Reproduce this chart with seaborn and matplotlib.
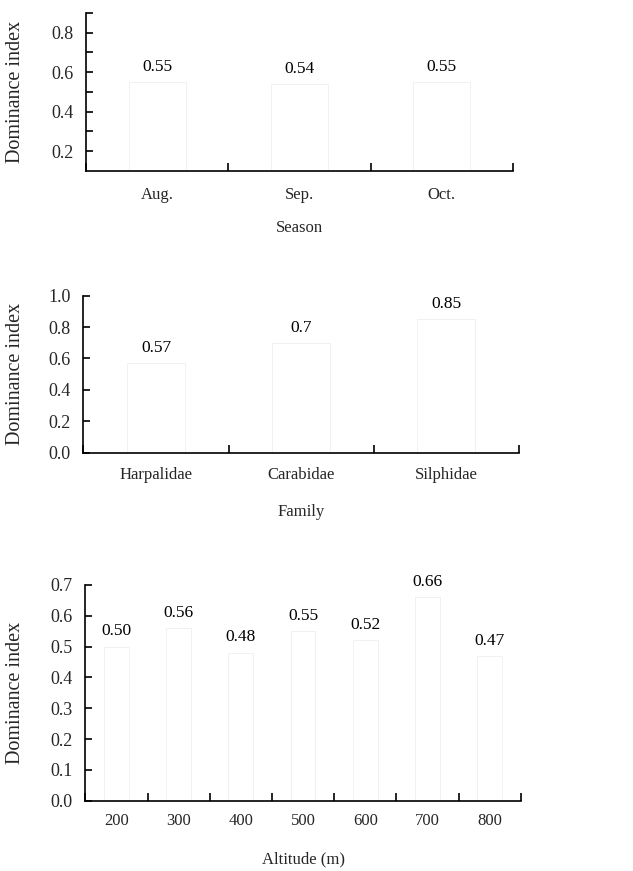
import matplotlib
matplotlib.use("Agg")
import matplotlib.pyplot as plt
import seaborn as sns
import numpy as np
import pandas as pd
from matplotlib.ticker import FixedLocator

sns.set_theme(style="ticks")
plt.rcParams['font.family'] = ['Liberation Serif', 'DejaVu Serif']

# ---- data ----
season_cats = ["Aug.", "Sep.", "Oct."]
season_vals = [0.55, 0.54, 0.55]
season_lbls = ["0.55", "0.54", "0.55"]

family_cats = ["Harpalidae", "Carabidae", "Silphidae"]
family_vals = [0.57, 0.70, 0.85]
family_lbls = ["0.57", "0.7", "0.85"]

alt_cats = ["200", "300", "400", "500", "600", "700", "800"]
alt_vals = [0.50, 0.56, 0.48, 0.55, 0.52, 0.66, 0.47]
alt_lbls = ["0.50", "0.56", "0.48", "0.55", "0.52", "0.66", "0.47"]

W, H = 633, 871
fig = plt.figure(figsize=(W / 100, H / 100), dpi=100)
fig.patch.set_facecolor("white")


def panel(rect, cats, vals, lbls, xlabel, ylim, yticks, yminor, xpad, xlpad, ylabel_x):
    ax = fig.add_axes(rect)
    df = pd.DataFrame({"cat": cats, "val": vals})
    sns.barplot(data=df, x="cat", y="val", ax=ax, color="white", width=0.4,
                edgecolor="#ececec", linewidth=0.5, saturation=1)
    ax.set_facecolor("white")
    ax.set_xlim(-0.5, len(cats) - 0.5)
    ax.set_ylim(*ylim)
    ax.set_yticks(yticks)
    ax.set_yticklabels([f"{t:.1f}" for t in yticks])
    if yminor is not None:
        ax.yaxis.set_minor_locator(FixedLocator(yminor))
    ax.tick_params(axis="y", which="both", direction="in", length=5, width=1.2,
                   color="black", labelsize=13, pad=9)
    # x ticks: labels at centers, tick marks at category boundaries
    ax.tick_params(axis="x", which="major", length=0, labelsize=12, pad=xpad)
    ax.xaxis.set_minor_locator(FixedLocator(np.arange(-0.5, len(cats), 1.0)))
    ax.tick_params(axis="x", which="minor", direction="in", length=6, width=1.2,
                   color="black")
    for s in ["top", "right"]:
        ax.spines[s].set_visible(False)
    for s in ["left", "bottom"]:
        ax.spines[s].set_color("black")
        ax.spines[s].set_linewidth(1.2)
    ax.set_xlabel(xlabel, fontsize=12, labelpad=xlpad)
    ax.set_ylabel("Dominance index", fontsize=14.5)
    ax.yaxis.set_label_coords(ylabel_x, 0.5)
    for i, (v, t) in enumerate(zip(vals, lbls)):
        ax.annotate(t, (i, v), xytext=(0, 11), textcoords="offset points",
                    ha="center", va="center", fontsize=12.5, color="black")
    return ax


panel([0.1359, 0.8037, 0.6745, 0.1814], season_cats, season_vals, season_lbls,
      "Season", (0.1, 0.9), [0.2, 0.4, 0.6, 0.8], [0.3, 0.5, 0.7, 0.9], 11.5, 12.5, -0.143)
panel([0.1319, 0.4803, 0.6880, 0.1802], family_cats, family_vals, family_lbls,
      "Family", (0.0, 1.0), [0.0, 0.2, 0.4, 0.6, 0.8, 1.0], None, 10.5, 15, -0.134)
panel([0.1348, 0.0807, 0.6878, 0.2477], alt_cats, alt_vals, alt_lbls,
      "Altitude (m)", (0.0, 0.7), [0.0, 0.1, 0.2, 0.3, 0.4, 0.5, 0.6, 0.7], None, 9, 16, -0.139)

fig.savefig("out.png", dpi=100, facecolor="white")
